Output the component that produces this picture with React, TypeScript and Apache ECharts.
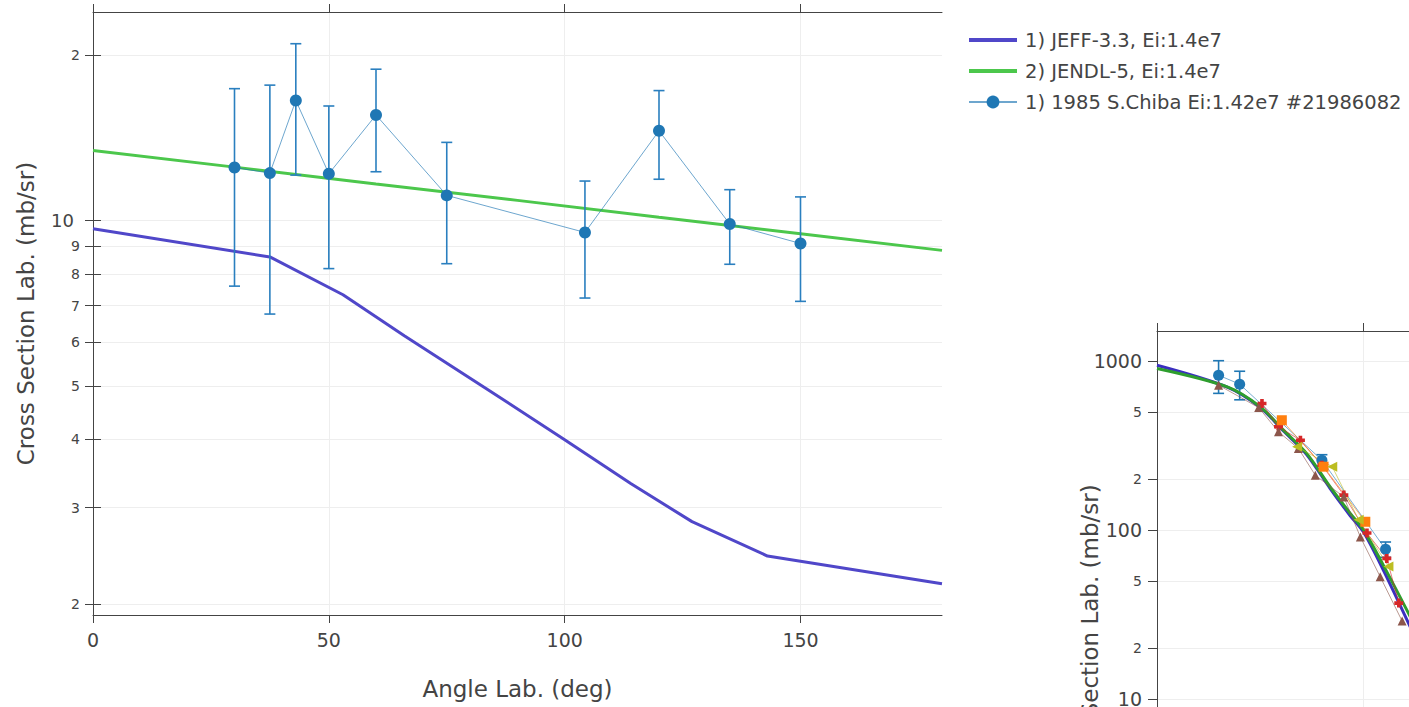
import React, { useEffect, useRef } from "react";
import * as echarts from "echarts";

const FONT = '"DejaVu Sans", Verdana, sans-serif';
const AXIS_COLOR = "#444";
const GRID_COLOR = "#eeeeee";

// ---- Main panel: angular distribution at 14 MeV ----
const jeffAngles = [0, 37.5, 53, 66, 83, 100, 114, 127, 143, 180];
const jeffValues = [9.67, 8.59, 7.33, 6.17, 4.97, 3.99, 3.32, 2.83, 2.45, 2.18];

const jendlAngles = [0, 30, 60, 90, 120, 150, 180];
const jendlValues = [13.43, 12.52, 11.67, 10.89, 10.15, 9.47, 8.83];

const chibaAngles = [30, 37.5, 43, 50, 60, 75, 104.3, 120, 135, 150];
const chibaValues = [12.5, 12.21, 16.56, 12.18, 15.58, 11.12, 9.52, 14.58, 9.86, 9.09];
const chibaErrors = [4.9, 5.45, 4.45, 4.0, 3.3, 2.77, 2.29, 2.68, 1.53, 1.96];

const mainXTicks = [0, 50, 100, 150];
const mainYTicks = [2, 3, 4, 5, 6, 7, 8, 9, 10, 20];

const seriesNames = [
  "1) JEFF-3.3, Ei:1.4e7",
  "2) JENDL-5, Ei:1.4e7",
  "1) 1985 S.Chiba Ei:1.42e7 #21986082",
];

// ---- Second panel (partly visible) ----
const evalAAngles = [0, 17, 25, 30.6, 36.2, 41.9, 46.7, 50, 54.9, 61.5];
const evalAValues = [943, 700, 530, 385, 280, 176, 122, 97, 57, 26];
const evalBAngles = [0, 17, 25, 30.6, 36.2, 41.9, 46.7, 50, 54.9, 61.5];
const evalBValues = [902, 702, 535, 390, 284, 180, 126, 100, 61, 30];

const expCircleAngles = [14.9, 20, 39.9, 55.3];
const expCircleValues = [823, 729, 259, 77];
const expCircleErrors = [180, 140, 20, 8];

const expCrossAngles = [25.4, 29.4, 34.7, 39.9, 45.2, 50.8, 55.6, 58.5];
const expCrossValues = [560, 408, 340, 242, 161, 96, 68, 37];

const expTriAngles = [14.9, 24.6, 29.4, 34.2, 38.3, 45.2, 49.2, 54, 59.3];
const expTriValues = [719, 530, 381, 304, 211, 157, 91, 53, 29];

const expSquareAngles = [30.2, 40.3, 50.4];
const expSquareValues = [446, 237, 112];

const expLeftTriAngles = [33.9, 42.4, 48.8, 56];
const expLeftTriValues = [311, 237, 115, 61];

const insetXTicks = [0, 50, 100, 150];
const insetYTicks = [0.5, 1, 2, 5, 10, 20, 50, 100, 200, 500, 1000];

const pairs = (xs: number[], ys: number[]) => xs.map((x, i) => [x, ys[i]]);
const errRows = (xs: number[], ys: number[], es: number[]) =>
  xs.map((x, i) => [x, ys[i] - es[i], ys[i] + es[i]]);

// Log-axis labels: full number at each decade, leading digit elsewhere
function logLabel(v: number) {
  const e = Math.floor(Math.log10(v) + 1e-9);
  const m = Math.round(v / Math.pow(10, e));
  return m === 1 ? `{b|${Math.round(v * 10) / 10}}` : `{s|${m}}`;
}

function errorBarSeries(name: string, data: number[][], color: string, xi: number, yi: number, cap: number) {
  return {
    name,
    type: "custom",
    xAxisIndex: xi,
    yAxisIndex: yi,
    data,
    encode: { x: 0, y: [1, 2] },
    renderItem: (_params: any, api: any) => {
      const x = api.value(0);
      const top = api.coord([x, api.value(2)]);
      const bot = api.coord([x, api.value(1)]);
      const style = { stroke: color, lineWidth: 1.6 };
      return {
        type: "group",
        children: [
          { type: "line", shape: { x1: top[0], y1: top[1], x2: bot[0], y2: bot[1] }, style },
          { type: "line", shape: { x1: top[0] - cap, y1: top[1], x2: top[0] + cap, y2: top[1] }, style },
          { type: "line", shape: { x1: bot[0] - cap, y1: bot[1], x2: bot[0] + cap, y2: bot[1] }, style },
        ],
      };
    },
    z: 3,
  };
}

const plus = "path://M3,0h4v3h3v4h-3v3h-4v-3h-3v-4h3z";

export default function App() {
  const ref = useRef<HTMLDivElement>(null);

  useEffect(() => {
    if (!ref.current) return;
    const chart = echarts.init(ref.current, undefined, { renderer: "svg" });

    const tickLine = { lineStyle: { color: AXIS_COLOR, width: 1 } };
    const axisLine = { show: true, lineStyle: { color: AXIS_COLOR, width: 1 } };
    const titleStyle = { fontSize: 23, color: AXIS_COLOR, fontFamily: FONT };

    const option: any = {
      animation: false,
      backgroundColor: "#fff",
      textStyle: { fontFamily: FONT, color: AXIS_COLOR },
      grid: [
        { left: 93, top: 12, width: 849, height: 603, containLabel: false, outerBoundsMode: "none" },
        { left: 1157, top: 331, width: 744, height: 610, containLabel: false, outerBoundsMode: "none" },
      ],
      legend: {
        orient: "vertical",
        left: 967,
        top: 30,
        padding: 0,
        itemWidth: 48,
        itemHeight: 16,
        itemGap: 11,
        data: [
          { name: seriesNames[0], itemStyle: { opacity: 0 }, lineStyle: { width: 4 } },
          { name: seriesNames[1], itemStyle: { opacity: 0 }, lineStyle: { width: 4 } },
          { name: seriesNames[2] },
        ],
        textStyle: { fontFamily: FONT, fontSize: 19.5, color: AXIS_COLOR, padding: [0, 0, 0, 3] },
      },
      xAxis: [
        {
          gridIndex: 0,
          type: "value",
          position: "bottom",
          min: 0,
          max: 180,
          axisLine,
          axisTick: { show: true, inside: false, length: 8, customValues: mainXTicks, ...tickLine },
          axisLabel: { customValues: mainXTicks, fontSize: 19, color: AXIS_COLOR, fontFamily: FONT, margin: 15 },
          splitLine: { show: true, lineStyle: { color: GRID_COLOR, width: 1 } },
          name: "Angle Lab. (deg)",
          nameLocation: "middle",
          nameGap: 62,
          nameMoveOverlap: false,
          nameTextStyle: titleStyle,
        },
        {
          gridIndex: 0,
          type: "value",
          position: "top",
          min: 0,
          max: 180,
          axisLine,
          axisTick: { show: true, inside: false, length: 8, customValues: mainXTicks, ...tickLine },
          axisLabel: { show: false },
          splitLine: { show: false },
        },
        {
          gridIndex: 1,
          type: "value",
          position: "bottom",
          min: 0,
          max: 180,
          axisLine,
          axisTick: { show: true, length: 8, customValues: insetXTicks, ...tickLine },
          axisLabel: { customValues: insetXTicks, fontSize: 19, color: AXIS_COLOR, fontFamily: FONT },
          splitLine: { show: true, lineStyle: { color: GRID_COLOR, width: 1 } },
        },
        {
          gridIndex: 1,
          type: "value",
          position: "top",
          min: 0,
          max: 180,
          axisLine,
          axisTick: { show: true, length: 8, customValues: insetXTicks, ...tickLine },
          axisLabel: { show: false },
          splitLine: { show: false },
        },
      ],
      yAxis: [
        {
          gridIndex: 0,
          type: "log",
          position: "left",
          min: 1.913,
          max: 24.0,
          axisLine,
          axisTick: { show: true, length: 8, customValues: mainYTicks, ...tickLine },
          axisLabel: {
            customValues: mainYTicks,
            margin: 13,
            color: AXIS_COLOR,
            formatter: (v: number) => logLabel(v),
            rich: {
              b: { fontSize: 18, fontFamily: FONT, color: AXIS_COLOR, padding: [0, 6, 0, 0] },
              s: { fontSize: 14, fontFamily: FONT, color: AXIS_COLOR },
            },
          },
          splitLine: { show: true, lineStyle: { color: GRID_COLOR, width: 1 } },
          name: "Cross Section Lab. (mb/sr)",
          nameLocation: "middle",
          nameGap: 56,
          nameMoveOverlap: false,
          nameTextStyle: titleStyle,
        },
        {
          gridIndex: 0,
          type: "log",
          position: "right",
          min: 1.913,
          max: 24.0,
          axisLine,
          axisTick: { show: true, length: 8, customValues: mainYTicks, ...tickLine },
          axisLabel: { show: false },
          splitLine: { show: false },
        },
        {
          gridIndex: 1,
          type: "log",
          position: "left",
          min: 0.372,
          max: 1503,
          axisLine,
          axisTick: { show: true, length: 9, customValues: insetYTicks, ...tickLine },
          axisLabel: {
            customValues: insetYTicks,
            margin: 15,
            color: AXIS_COLOR,
            formatter: (v: number) => logLabel(v),
            rich: {
              b: { fontSize: 19, fontFamily: FONT, color: AXIS_COLOR },
              s: { fontSize: 14, fontFamily: FONT, color: AXIS_COLOR },
            },
          },
          splitLine: { show: true, lineStyle: { color: GRID_COLOR, width: 1 } },
          name: "Cross Section Lab. (mb/sr)",
          nameLocation: "middle",
          nameGap: 56,
          nameMoveOverlap: false,
          nameTextStyle: titleStyle,
        },
      ],
      series: [
        {
          name: seriesNames[0],
          type: "line",
          xAxisIndex: 0,
          yAxisIndex: 0,
          data: pairs(jeffAngles, jeffValues),
          symbol: "none",
          lineStyle: { color: "#5047c9", width: 3 },
          itemStyle: { color: "#5047c9" },
          z: 2,
        },
        {
          name: seriesNames[1],
          type: "line",
          xAxisIndex: 0,
          yAxisIndex: 0,
          data: pairs(jendlAngles, jendlValues),
          symbol: "none",
          lineStyle: { color: "#4cc74c", width: 3 },
          itemStyle: { color: "#4cc74c" },
          z: 2,
        },
        errorBarSeries("chiba-err", errRows(chibaAngles, chibaValues, chibaErrors), "#2a7fbf", 0, 0, 5.5),
        {
          name: seriesNames[2],
          type: "line",
          xAxisIndex: 0,
          yAxisIndex: 0,
          data: pairs(chibaAngles, chibaValues),
          symbol: "circle",
          symbolSize: 12,
          showAllSymbol: true,
          itemStyle: { color: "#1f77b4" },
          lineStyle: { color: "rgba(31,119,180,0.65)", width: 1 },
          z: 4,
        },
        // second panel
        {
          name: "inset-a",
          type: "line",
          xAxisIndex: 2,
          yAxisIndex: 2,
          data: pairs(evalAAngles, evalAValues),
          symbol: "none",
          smooth: 0.3,
          lineStyle: { color: "#3b2fbf", width: 3 },
          z: 2,
        },
        {
          name: "inset-b",
          type: "line",
          xAxisIndex: 2,
          yAxisIndex: 2,
          data: pairs(evalBAngles, evalBValues),
          symbol: "none",
          smooth: 0.3,
          lineStyle: { color: "#2e9e2e", width: 3 },
          z: 3,
        },
        errorBarSeries("inset-err", errRows(expCircleAngles, expCircleValues, expCircleErrors), "#1f77b4", 2, 2, 5.5),
        {
          name: "inset-circles",
          type: "line",
          xAxisIndex: 2,
          yAxisIndex: 2,
          data: pairs(expCircleAngles, expCircleValues),
          symbol: "circle",
          symbolSize: 11,
          itemStyle: { color: "#1f77b4" },
          lineStyle: { color: "rgba(31,119,180,0.6)", width: 1 },
          z: 4,
        },
        {
          name: "inset-cross",
          type: "line",
          xAxisIndex: 2,
          yAxisIndex: 2,
          data: pairs(expCrossAngles, expCrossValues),
          symbol: plus,
          symbolSize: 9,
          itemStyle: { color: "#d62728" },
          lineStyle: { color: "rgba(214,39,40,0.6)", width: 1 },
          z: 4,
        },
        {
          name: "inset-tri",
          type: "line",
          xAxisIndex: 2,
          yAxisIndex: 2,
          data: pairs(expTriAngles, expTriValues),
          symbol: "triangle",
          symbolSize: 9,
          itemStyle: { color: "#8c564b" },
          lineStyle: { color: "rgba(140,86,75,0.6)", width: 1 },
          z: 4,
        },
        {
          name: "inset-square",
          type: "line",
          xAxisIndex: 2,
          yAxisIndex: 2,
          data: pairs(expSquareAngles, expSquareValues),
          symbol: "rect",
          symbolSize: 10,
          itemStyle: { color: "#ff7f0e" },
          lineStyle: { color: "rgba(255,127,14,0.6)", width: 1 },
          z: 4,
        },
        {
          name: "inset-lefttri",
          type: "line",
          xAxisIndex: 2,
          yAxisIndex: 2,
          data: pairs(expLeftTriAngles, expLeftTriValues),
          symbol: "triangle",
          symbolRotate: 90,
          symbolSize: 10,
          itemStyle: { color: "#bcbd22" },
          lineStyle: { color: "rgba(188,189,34,0.6)", width: 1 },
          z: 4,
        },
      ],
    };

    chart.setOption(option);
    return () => chart.dispose();
  }, []);

  return (
    <div
      ref={ref}
      style={{ position: "fixed", left: 0, top: 0, width: 1409, height: 707, background: "#fff" }}
    />
  );
}
